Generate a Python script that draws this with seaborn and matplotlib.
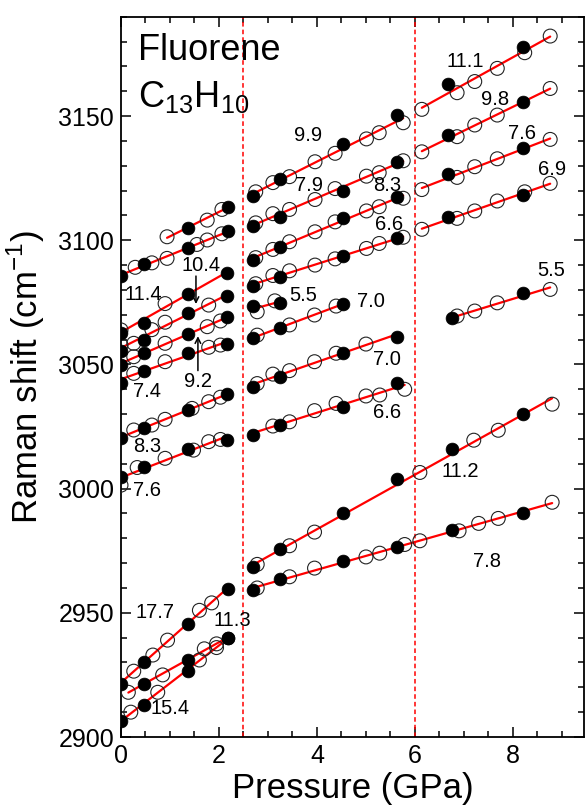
import numpy as np
import pandas as pd
import matplotlib
matplotlib.use("Agg")
import matplotlib.pyplot as plt
from matplotlib.ticker import MultipleLocator
import seaborn as sns

# ---------------- data (pressure in GPa, Raman shift in cm-1) ----------------
# phase I lines
a_fx, a_fy = [1.37, 2.18], [3105.0, 3113.5]
a_ox, a_oy = [0.94, 1.76, 2.06], [3101.4, 3108.1, 3112.4]
b_fx, b_fy = [0, 0.46, 1.37, 2.18], [3085.6, 3090.4, 3096.7, 3103.8]
b_ox, b_oy = [0.29, 0.63, 0.94, 1.55, 1.76, 2.06], [3089.1, 3090.9, 3092.7, 3098.3, 3100.1, 3102.6]
c_fx, c_fy = [0, 0.46, 1.37, 2.16], [3062.5, 3066.5, 3078.2, 3086.9]
c_ox, c_oy = [0, 0.9], [3063.9, 3074.5]
d_fx, d_fy = [0, 0.46, 1.37, 2.16], [3055.5, 3059.8, 3070.6, 3077.5]
d_ox, d_oy = [0, 0.26, 0.63, 0.9, 1.79], [3057.8, 3058.5, 3064.0, 3067.0, 3073.9]
e_fx, e_fy = [0, 0.46, 1.37, 2.16], [3049.8, 3054.5, 3062.3, 3069.2]
e_ox, e_oy = [0.26, 0.9, 1.76, 2.03], [3053.1, 3058.5, 3065.2, 3067.5]
f_fx, f_fy = [0, 0.46, 1.37, 2.16], [3042.6, 3047.5, 3054.5, 3058.2]
f_ox, f_oy = [0.26, 0.9, 1.79, 2.03], [3046.4, 3051.1, 3056.9, 3057.8]
g_fx, g_fy = [0, 0.46, 1.37, 2.16], [3020.2, 3024.3, 3031.6, 3038.1]
g_ox, g_oy = [0.26, 0.63, 0.9, 1.45, 1.79, 2.03], [3023.6, 3025.6, 3027.9, 3032.3, 3035.0, 3036.8]
h_fx, h_fy = [0, 0.46, 1.37, 2.16], [3004.8, 3008.8, 3015.8, 3019.6]
h_ox, h_oy = [0, 0.33, 0.9, 1.48, 1.79, 2.03], [3001.4, 3008.5, 3012.2, 3015.5, 3018.9, 3019.8]
i_fx, i_fy = [0, 0.46, 1.37, 2.18], [2921.5, 2930.0, 2945.5, 2959.5]
i_ox, i_oy = [0.26, 0.65, 0.95, 1.6, 1.85], [2926.5, 2933.0, 2939.0, 2951.0, 2954.0]
j_fx, j_fy = [0.46, 1.37, 2.18], [2921.5, 2931.0, 2940.0]
j_ox, j_oy = [0.15, 0.85, 1.7, 1.95], [2918.0, 2925.0, 2935.5, 2937.5]
k_fx, k_fy = [0, 0.46, 1.37, 2.18], [2906.5, 2913.0, 2926.5, 2940.0]
k_ox, k_oy = [0.2, 0.75, 1.6, 1.95], [2910.0, 2918.0, 2931.0, 2936.0]

# phase II lines
ox2 = [2.75, 3.1, 3.44, 3.96, 4.37, 5.01, 5.27, 5.76]
l_fx, l_fy = [2.70, 3.24, 4.54, 5.63], [3117.8, 3124.5, 3138.6, 3150.4]
l_oy = [3119.5, 3123.2, 3125.6, 3131.6, 3135.0, 3140.8, 3143.3, 3147.3]
m_fx, m_fy = [2.69, 3.24, 4.53, 5.63], [3105.8, 3109.5, 3119.8, 3131.6]
m_oy = [3107.0, 3110.7, 3112.4, 3116.4, 3120.8, 3125.8, 3127.2, 3132.0]
n_fx, n_fy = [2.69, 3.24, 4.53, 5.64], [3092.0, 3097.4, 3108.8, 3117.5]
n_oy = [3093.0, 3096.3, 3099.4, 3103.4, 3107.4, 3111.8, 3113.5, 3116.9]
o_fx, o_fy = [2.69, 3.24, 4.53, 5.64], [3081.6, 3085.1, 3093.6, 3100.8]
o_oy = [3082.5, 3085.8, 3087.7, 3090.0, 3092.5, 3096.7, 3098.7, 3101.2]
p_fx, p_fy = [2.69, 3.24], [3073.5, 3074.8]
p_ox, p_oy = [2.78, 3.14], [3071.2, 3075.6]
q_fx, q_fy = [2.69, 3.24, 4.53], [3060.5, 3064.8, 3074.3]
q_ox, q_oy = [2.78, 3.44, 3.95, 4.39], [3061.8, 3065.9, 3069.9, 3073.5]
r_fx, r_fy = [2.69, 3.24, 4.53, 5.64], [3041.0, 3044.8, 3054.5, 3061.2]
r_ox, r_oy = [2.78, 3.1, 3.44, 3.95, 4.39, 5.0], [3042.3, 3046.1, 3047.5, 3051.1, 3054.5, 3058.2]
s_fx, s_fy = [2.69, 3.24, 4.53, 5.64], [3021.6, 3025.6, 3032.7, 3042.6]
s_ox, s_oy = [3.1, 3.44, 3.95, 4.39, 5.0, 5.28, 5.79], [3025.2, 3026.9, 3031.4, 3034.3, 3037.3, 3037.7, 3040.0]
t_fx, t_fy = [2.69, 3.24, 4.53, 5.64, 6.75, 8.21], [2968.5, 2975.5, 2990.0, 3004.0, 3016.0, 3030.0]
t_ox, t_oy = [2.78, 3.44, 3.95, 6.1, 7.2, 7.7, 8.8], [2969.5, 2977.0, 2982.5, 3006.5, 3019.5, 3023.5, 3034.0]
u_fx, u_fy = [2.69, 3.24, 4.53, 5.64, 6.75, 8.21], [2959.0, 2963.5, 2971.0, 2976.5, 2983.5, 2990.0]
u_ox = [2.78, 3.44, 3.95, 5.0, 5.28, 5.79, 6.1, 6.9, 7.3, 7.7, 8.8]
u_oy = [2960.0, 2964.5, 2968.0, 2972.5, 2974.0, 2977.5, 2979.0, 2983.0, 2986.0, 2988.0, 2994.5]

# phase III lines
v_fx, v_fy = [6.68, 8.21], [3162.9, 3177.6]
v_ox, v_oy = [6.14, 6.86, 7.22, 7.68, 8.24, 8.76], [3152.7, 3159.4, 3163.9, 3169.2, 3175.5, 3182.2]
w_fx, w_fy = [6.68, 8.21], [3142.3, 3155.8]
w_ox, w_oy = [6.14, 6.86, 7.22, 7.68, 8.76], [3135.6, 3141.7, 3146.4, 3150.4, 3161.1]
x_fx, x_fy = [6.68, 8.21], [3126.6, 3137.0]
x_ox, x_oy = [6.14, 6.86, 7.22, 7.68, 8.76], [3120.4, 3125.3, 3129.6, 3132.8, 3140.6]
y_fx, y_fy = [6.68, 8.21], [3109.5, 3118.2]
y_ox, y_oy = [6.14, 6.86, 7.22, 7.68, 8.24, 8.76], [3104.4, 3108.8, 3111.8, 3115.8, 3119.5, 3122.9]
z_fx, z_fy = [6.76, 8.21], [3068.6, 3078.6]
z_ox, z_oy = [6.86, 7.22, 7.68, 8.76], [3069.5, 3071.5, 3074.8, 3080.2]

# slope labels
slope_text = ["9.9", "7.9", "8.3", "6.6", "5.5", "7.0", "7.0", "6.6",
              "11.1", "9.8", "7.6", "6.9", "5.5", "11.2", "7.8",
              "11.4", "10.4", "9.2", "7.4", "8.3", "7.6", "17.7", "11.3", "15.4"]
slope_x = [3.82, 3.84, 5.43, 5.48, 3.72, 5.10, 5.43, 5.43,
           7.02, 7.63, 8.19, 8.79, 8.79, 6.92, 7.47,
           0.46, 1.64, 1.57, 0.53, 0.53, 0.53, 0.69, 2.27, 1.0]
slope_y = [3142.0, 3122.2, 3122.2, 3106.5, 3077.7, 3075.2, 3052.0, 3030.5,
           3171.9, 3156.7, 3143.0, 3128.5, 3087.7, 3006.7, 2970.5,
           3078.0, 3090.0, 3043.0, 3039.0, 3017.1, 2999.4, 2950.3, 2947.0, 2911.5]

boundaries = [2.5, 6.0]
x_ticks = [0, 2, 4, 6, 8]
y_ticks = [2900, 2950, 3000, 3050, 3100, 3150]

# ---------------- build table ----------------
series = {
    "a": (a_fx, a_fy, a_ox, a_oy), "b": (b_fx, b_fy, b_ox, b_oy),
    "c": (c_fx, c_fy, c_ox, c_oy), "d": (d_fx, d_fy, d_ox, d_oy),
    "e": (e_fx, e_fy, e_ox, e_oy), "f": (f_fx, f_fy, f_ox, f_oy),
    "g": (g_fx, g_fy, g_ox, g_oy), "h": (h_fx, h_fy, h_ox, h_oy),
    "i": (i_fx, i_fy, i_ox, i_oy), "j": (j_fx, j_fy, j_ox, j_oy),
    "k": (k_fx, k_fy, k_ox, k_oy),
    "l": (l_fx, l_fy, ox2, l_oy), "m": (m_fx, m_fy, ox2, m_oy),
    "n": (n_fx, n_fy, ox2, n_oy), "o": (o_fx, o_fy, ox2, o_oy),
    "p": (p_fx, p_fy, p_ox, p_oy), "q": (q_fx, q_fy, q_ox, q_oy),
    "r": (r_fx, r_fy, r_ox, r_oy), "s": (s_fx, s_fy, s_ox, s_oy),
    "t": (t_fx, t_fy, t_ox, t_oy), "u": (u_fx, u_fy, u_ox, u_oy),
    "v": (v_fx, v_fy, v_ox, v_oy), "w": (w_fx, w_fy, w_ox, w_oy),
    "x": (x_fx, x_fy, x_ox, x_oy), "y": (y_fx, y_fy, y_ox, y_oy),
    "z": (z_fx, z_fy, z_ox, z_oy),
}
rows = []
for name, (fx, fy, ox, oy) in series.items():
    rows += [(name, "filled", px, py) for px, py in zip(fx, fy)]
    rows += [(name, "open", px, py) for px, py in zip(ox, oy)]
df = pd.DataFrame(rows, columns=["line", "run", "P", "w"])

# ---------------- style ----------------
sns.set_style("ticks")
plt.rcParams["font.family"] = ["Liberation Sans", "DejaVu Sans"]
plt.rcParams["mathtext.fontset"] = "custom"
plt.rcParams["mathtext.rm"] = "Liberation Sans"
for key in ["text.color", "axes.labelcolor", "xtick.color", "ytick.color",
            "xtick.labelcolor", "ytick.labelcolor", "axes.edgecolor"]:
    plt.rcParams[key] = "black"

fig = plt.figure(figsize=(5.85, 8.08), dpi=100)
ax = fig.add_axes([121 / 585, 71 / 808, 463 / 585, 720.3 / 808])

for name in series:
    sns.regplot(data=df[df.line == name], x="P", y="w", scatter=False, ci=None,
                truncate=True, color="red", line_kws=dict(lw=1.6, zorder=2), ax=ax)

sns.scatterplot(data=df[df.run == "open"], x="P", y="w", marker="o", s=100,
                facecolors="none", edgecolor="#222222", linewidth=0.8,
                zorder=3, legend=False, ax=ax)
sns.scatterplot(data=df[df.run == "filled"], x="P", y="w", marker="o", s=85,
                color="black", edgecolor="black", linewidth=0.5,
                zorder=4, legend=False, ax=ax)

for b in boundaries:
    ax.axvline(b, color="red", lw=1.1, ls=(0, (3, 2)), zorder=1)

for t, tx, ty in zip(slope_text, slope_x, slope_y):
    ax.text(tx, ty, t, fontsize=14.5, ha="center", va="center", color="black", zorder=5)

ax.annotate("", xy=(1.53, 3073.2), xytext=(1.53, 3086.7),
            arrowprops=dict(arrowstyle="->", color="black", lw=1.1))
ax.annotate("", xy=(1.57, 3062.5), xytext=(1.57, 3046.4),
            arrowprops=dict(arrowstyle="->", color="black", lw=1.1))

ax.text(0.35, 3172.5, "Fluorene", fontsize=26, ha="left", va="baseline", color="black")
ax.text(0.35, 3153.7, r"C$_{\mathregular{13}}$H$_{\mathregular{10}}$",
        fontsize=26, ha="left", va="baseline", color="black")

ax.set_xlim(0, 9.45)
ax.set_ylim(2900, 3190)
ax.set_xticks(x_ticks)
ax.set_yticks(y_ticks)
ax.xaxis.set_minor_locator(MultipleLocator(0.5))
ax.yaxis.set_minor_locator(MultipleLocator(10))
ax.tick_params(which="both", direction="in", top=True, right=True,
               width=1.1, labelsize=18, pad=5, color="black", labelcolor="black")
ax.tick_params(which="major", length=7)
ax.tick_params(which="minor", length=4)
for sp in ax.spines.values():
    sp.set_linewidth(1.3)
    sp.set_color("black")

ax.set_xlabel("Pressure (GPa)", fontsize=25, labelpad=3, color="black")
ax.set_ylabel(r"Raman shift (cm$^{\mathregular{-1}}$)", fontsize=25, labelpad=8,
              color="black",
              family=["Liberation Sans Narrow", "Liberation Sans", "DejaVu Sans"])

fig.savefig("out.png", dpi=100)
